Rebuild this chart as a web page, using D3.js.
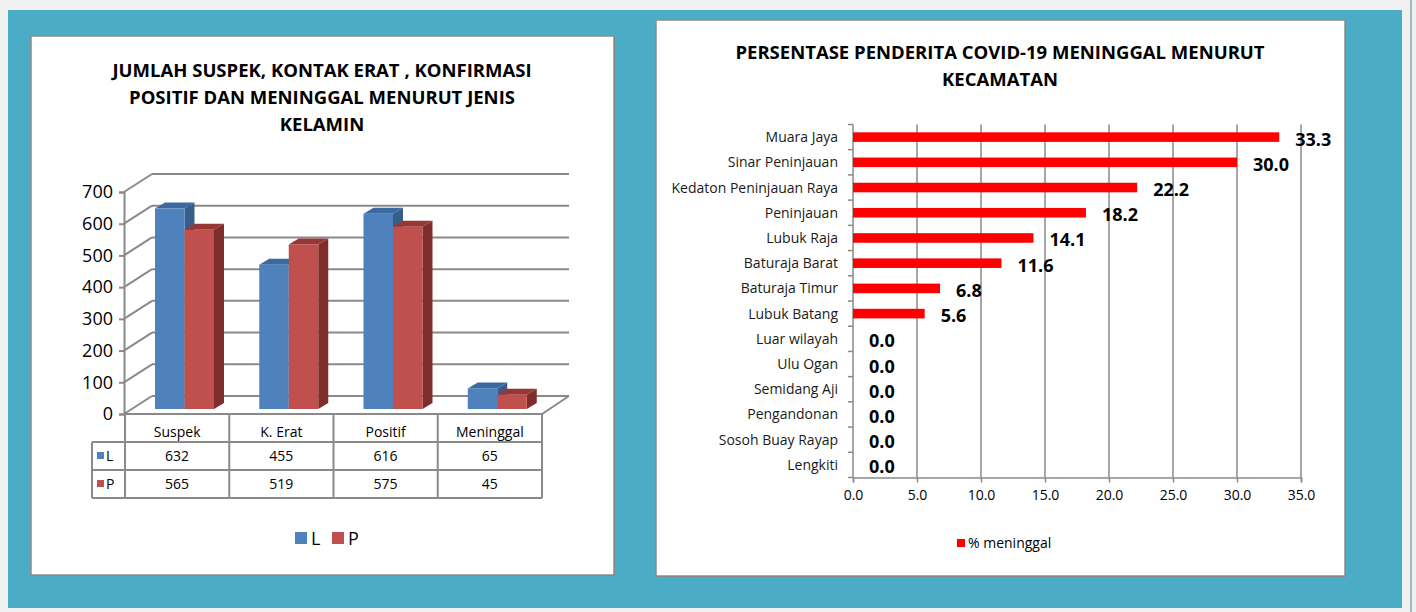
<!DOCTYPE html>
<html>
<head>
<meta charset="utf-8">
<script src="https://cdn.jsdelivr.net/npm/d3@7"></script>
<style>
  html, body { margin: 0; padding: 0; background: #f0f0f0; }
  svg { display: block; }
  text { font-family: "Open Sans", Calibri, sans-serif; }
</style>
</head>
<body>
<div id="chart"></div>
<script>
// left chart data
var categories = ["Suspek", "K. Erat", "Positif", "Meninggal"];
var seriesNames = ["L", "P"];
var seriesL = [632, 455, 616, 65];
var seriesP = [565, 519, 575, 45];
var yTicks = [0, 100, 200, 300, 400, 500, 600, 700];

// right chart data
var kecamatan = ["Muara Jaya", "Sinar Peninjauan", "Kedaton Peninjauan Raya", "Peninjauan",
  "Lubuk Raja", "Baturaja Barat", "Baturaja Timur", "Lubuk Batang", "Luar wilayah",
  "Ulu Ogan", "Semidang Aji", "Pengandonan", "Sosoh Buay Rayap", "Lengkiti"];
var pctMeninggal = [33.3, 30.0, 22.2, 18.2, 14.1, 11.6, 6.8, 5.6, 0.0, 0.0, 0.0, 0.0, 0.0, 0.0];
var xTicks = [0, 5, 10, 15, 20, 25, 30, 35];

var W = 1416, H = 612;
var gridColor = "#8a8a8a";
var font = "\"Open Sans\", Calibri, sans-serif";

var svg = d3.select("#chart").append("svg")
    .attr("width", W)
    .attr("height", H);

// page background + teal frame
svg.append("rect").attr("x", 0).attr("y", 0).attr("width", W).attr("height", H).attr("fill", "#f0f0f0");
svg.append("rect").attr("x", 8).attr("y", 10).attr("width", 1394).attr("height", 598).attr("fill", "#4bacc6");
svg.append("line").attr("x1", 1411).attr("x2", 1411).attr("y1", 0).attr("y2", H)
    .attr("stroke", "#a9b8bf").attr("stroke-width", 2);

// panels
function panel(x, y, w, h) {
    svg.append("rect").attr("x", x + 1).attr("y", y + 1).attr("width", w).attr("height", h)
        .attr("fill", "#7f7f7f");
    svg.append("rect").attr("x", x).attr("y", y).attr("width", w).attr("height", h)
        .attr("fill", "#ffffff").attr("stroke", "#8c8c8c").attr("stroke-width", 1.5);
}
panel(31, 36, 583, 539);
panel(656, 20, 689, 556);

// ---------- LEFT: 3D clustered column ----------
var left = svg.append("g");

left.append("text")
    .attr("text-anchor", "middle")
    .style("font-weight", "bold")
    .style("font-size", "18.5px")
    .selectAll("tspan")
    .data(["JUMLAH SUSPEK, KONTAK ERAT , KONFIRMASI", "POSITIF DAN MENINGGAL MENURUT JENIS", "KELAMIN"])
    .enter().append("tspan")
    .attr("x", 322)
    .attr("y", function (d, i) { return 77 + i * 27; })
    .text(function (d) { return d; });

var depthX = 27, depthY = -18;
var y = d3.scaleLinear().domain([0, 700]).range([414, 192]);
var x0 = d3.scaleBand().domain(categories).range([125, 542]);
var x1 = d3.scaleBand().domain(seriesNames).range([23, 82]);

// back wall gridlines + left wall lines
yTicks.forEach(function (t) {
    left.append("line")
        .attr("x1", 125 + depthX).attr("x2", 542 + depthX)
        .attr("y1", y(t) + depthY).attr("y2", y(t) + depthY)
        .attr("stroke", gridColor).attr("stroke-width", 2);
    left.append("line")
        .attr("x1", 124).attr("x2", 125 + depthX)
        .attr("y1", y(t)).attr("y2", y(t) + depthY)
        .attr("stroke", gridColor).attr("stroke-width", 2);
});

// floor
left.append("path")
    .attr("d", "M125," + y(0) + "L542," + y(0) + "L" + (542 + depthX) + "," + (y(0) + depthY))
    .attr("fill", "none").attr("stroke", gridColor).attr("stroke-width", 2);

// y axis
left.append("g")
    .attr("transform", "translate(124,0)")
    .call(d3.axisLeft(y).tickValues(yTicks).tickSize(5).tickPadding(6))
    .call(function (g) {
        g.select(".domain").attr("stroke", gridColor).attr("stroke-width", 2);
        g.selectAll(".tick line").attr("stroke", gridColor).attr("stroke-width", 2);
        g.selectAll(".tick text")
            .style("font-size", "18px").style("font-family", font)
            .attr("fill", "#000");
    });

// bars
var barFront = {L: "#4f81bd", P: "#c0504d"};
var barSide = {L: "#385d8a", P: "#7f2d2b"};
var barTop = {L: "#3b6aa0", P: "#953835"};
var offX = 7, offY = -5, dX = 10, dY = -6;

var barData = [];
categories.forEach(function (c, i) {
    barData.push({cat: c, s: "L", v: seriesL[i]});
    barData.push({cat: c, s: "P", v: seriesP[i]});
});

var bars = left.append("g").selectAll("g")
    .data(barData)
    .enter().append("g");

bars.each(function (d) {
    var g = d3.select(this);
    var xl = x0(d.cat) + x1(d.s) + offX;
    var xr = xl + x1.bandwidth();
    var yb = y(0) + offY;
    var yt = y(d.v) + offY;
    g.append("path")
        .attr("d", "M" + xr + "," + yb + "L" + (xr + dX) + "," + (yb + dY) + "L" + (xr + dX) + "," + (yt + dY) + "L" + xr + "," + yt + "Z")
        .attr("fill", barSide[d.s]);
    g.append("path")
        .attr("d", "M" + xl + "," + yt + "L" + (xl + dX) + "," + (yt + dY) + "L" + (xr + dX) + "," + (yt + dY) + "L" + xr + "," + yt + "Z")
        .attr("fill", barTop[d.s]);
    g.append("rect")
        .attr("x", xl).attr("y", yt)
        .attr("width", xr - xl).attr("height", yb - yt)
        .attr("fill", barFront[d.s]);
});

// data table
var tableTop = 414, rowH = 28;
var tbl = left.append("g");
var colEdges = [125].concat(categories.map(function (c) { return x0(c) + x0.bandwidth(); }));
colEdges.forEach(function (xe) {
    tbl.append("line").attr("x1", xe).attr("x2", xe)
        .attr("y1", tableTop).attr("y2", tableTop + rowH * 3)
        .attr("stroke", gridColor).attr("stroke-width", 2);
});
[1, 2, 3].forEach(function (r) {
    tbl.append("line").attr("x1", 92).attr("x2", 542)
        .attr("y1", tableTop + rowH * r).attr("y2", tableTop + rowH * r)
        .attr("stroke", gridColor).attr("stroke-width", 2);
});
tbl.append("line").attr("x1", 92).attr("x2", 92)
    .attr("y1", tableTop + rowH).attr("y2", tableTop + rowH * 3)
    .attr("stroke", gridColor).attr("stroke-width", 2);

categories.forEach(function (c) {
    tbl.append("text")
        .attr("x", x0(c) + x0.bandwidth() / 2).attr("y", tableTop + 23)
        .attr("text-anchor", "middle").style("font-size", "14px")
        .text(c);
});
[seriesL, seriesP].forEach(function (arr, r) {
    var ry = tableTop + rowH * (r + 1);
    tbl.append("rect").attr("x", 97).attr("y", ry + 10).attr("width", 7).attr("height", 7)
        .attr("fill", barFront[seriesNames[r]]);
    tbl.append("text").attr("x", 106).attr("y", ry + 19)
        .style("font-size", "14px").text(seriesNames[r]);
    arr.forEach(function (v, i) {
        tbl.append("text")
            .attr("x", x0(categories[i]) + x0.bandwidth() / 2).attr("y", ry + 19)
            .attr("text-anchor", "middle").style("font-size", "14px")
            .text(v);
    });
});

// legend
var lg = left.append("g").attr("transform", "translate(295,532)");
seriesNames.forEach(function (s, i) {
    lg.append("rect").attr("x", i * 37).attr("y", 0).attr("width", 12).attr("height", 12)
        .attr("fill", barFront[s]);
    lg.append("text").attr("x", i * 37 + 16).attr("y", 12.5)
        .style("font-size", "18px").text(s);
});

// ---------- RIGHT: horizontal bar ----------
var right = svg.append("g");

right.append("text")
    .attr("text-anchor", "middle")
    .style("font-weight", "bold")
    .style("font-size", "18.5px")
    .selectAll("tspan")
    .data(["PERSENTASE PENDERITA COVID-19 MENINGGAL MENURUT", "KECAMATAN"])
    .enter().append("tspan")
    .attr("x", 1000)
    .attr("y", function (d, i) { return 59 + i * 27; })
    .text(function (d) { return d; });

var xr = d3.scaleLinear().domain([0, 35]).range([853, 1301]);
var yr = d3.scaleBand().domain(kecamatan).range([124.5, 477.5]).paddingInner(0.62).paddingOuter(0.31);
var step = yr.step();

// gridlines
right.append("g").selectAll("line")
    .data(xTicks.slice(1))
    .enter().append("line")
    .attr("x1", function (d) { return xr(d); })
    .attr("x2", function (d) { return xr(d); })
    .attr("y1", 124.5).attr("y2", 477.5)
    .attr("stroke", gridColor).attr("stroke-width", 1.5);

// x axis
right.append("g")
    .attr("transform", "translate(0,477.5)")
    .call(d3.axisBottom(xr).tickValues(xTicks).tickSize(5).tickPadding(8).tickFormat(d3.format(".1f")))
    .call(function (g) {
        g.select(".domain").attr("stroke", gridColor).attr("stroke-width", 1.5);
        g.selectAll(".tick line").attr("stroke", gridColor).attr("stroke-width", 1.5);
        g.selectAll(".tick text")
            .style("font-size", "14px").style("font-family", font)
            .attr("fill", "#000");
    });

// y axis (labels centred on bands, ticks on boundaries)
right.append("line").attr("x1", 853).attr("x2", 853).attr("y1", 124.5).attr("y2", 477.5)
    .attr("stroke", gridColor).attr("stroke-width", 1.5);
right.append("g").selectAll("line")
    .data(d3.range(kecamatan.length + 1))
    .enter().append("line")
    .attr("x1", 848).attr("x2", 853)
    .attr("y1", function (i) { return 124.5 + i * step; })
    .attr("y2", function (i) { return 124.5 + i * step; })
    .attr("stroke", gridColor).attr("stroke-width", 1.5);
right.append("g").selectAll("text")
    .data(kecamatan)
    .enter().append("text")
    .attr("x", 838)
    .attr("y", function (d) { return yr(d) + yr.bandwidth() / 2 + 5; })
    .attr("text-anchor", "end")
    .style("font-size", "14px")
    .attr("fill", "#1a1a1a")
    .text(function (d) { return d; });

// bars
right.append("g").selectAll("rect")
    .data(kecamatan)
    .enter().append("rect")
    .attr("x", xr(0))
    .attr("y", function (d) { return yr(d); })
    .attr("width", function (d, i) { return xr(pctMeninggal[i]) - xr(0); })
    .attr("height", yr.bandwidth())
    .attr("fill", "#ff0000");

// value labels
right.append("g").selectAll("text")
    .data(kecamatan)
    .enter().append("text")
    .attr("x", function (d, i) { return xr(pctMeninggal[i]) + 16; })
    .attr("y", function (d) { return yr(d) + yr.bandwidth() / 2 + 8.5; })
    .style("font-size", "18px")
    .style("font-weight", "bold")
    .text(function (d, i) { return pctMeninggal[i].toFixed(1); });

// legend
right.append("rect").attr("x", 957).attr("y", 539).attr("width", 8).attr("height", 8).attr("fill", "#ff0000");
right.append("text").attr("x", 968).attr("y", 548).style("font-size", "14px").text("% meninggal");
</script>
</body>
</html>
